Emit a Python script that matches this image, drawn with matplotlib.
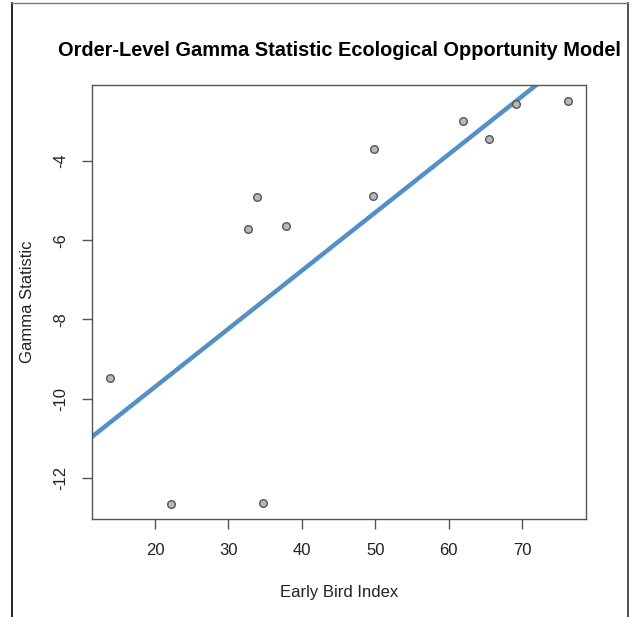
import matplotlib.pyplot as plt
from matplotlib.lines import Line2D

# Data
early_bird = [13.9, 22.2, 34.7, 32.7, 33.9, 37.8, 49.8, 49.7, 62.0, 65.5, 69.2, 76.3]
gamma = [-9.49, -12.66, -12.63, -5.72, -4.91, -5.65, -3.70, -4.88, -2.99, -3.44, -2.56, -2.48]
fit_intercept = -12.64
fit_slope = 0.1468

x_ticks = [20, 30, 40, 50, 60, 70]
y_ticks = [-4, -6, -8, -10, -12]

plt.rcParams['font.family'] = ['Liberation Sans', 'DejaVu Sans']

fig = plt.figure(figsize=(6.35, 6.17), dpi=100)
ax = fig.add_axes([92 / 635, 1 - 519 / 617, 494 / 635, 434 / 617])

ax.scatter(early_bird, gamma, s=30, facecolor='#b8b8b8', edgecolor='#555555',
           linewidth=1.0, zorder=3)
ax.axline((0, fit_intercept), slope=fit_slope, color='#5390c6', linewidth=3.2, zorder=2)

ax.set_xlim(11.42, 78.7)
ax.set_ylim(-13.04, -2.08)
ax.set_xticks(x_ticks)
ax.set_yticks(y_ticks)
ax.set_yticklabels([str(v) for v in y_ticks], rotation=90, va='center')

for s in ax.spines.values():
    s.set_color('#555555')
    s.set_linewidth(1.0)
ax.tick_params(direction='out', length=7, width=1.0, color='#555555',
               labelsize=12, labelcolor='#222222', pad=10)

ax.set_title('Order-Level Gamma Statistic Ecological Opportunity Model',
             fontsize=14.4, fontweight='bold', pad=21)
ax.set_xlabel('Early Bird Index', fontsize=12, labelpad=20, color='#222222')
ax.set_ylabel('Gamma Statistic', fontsize=12, labelpad=13, color='#222222')

# screenshot frame
fig.add_artist(Line2D([12 / 635, 12 / 635], [0, 1 - 3 / 617], color='black', lw=1.2))
fig.add_artist(Line2D([628 / 635, 628 / 635], [0, 1 - 3 / 617], color='#333333', lw=1.2))
fig.add_artist(Line2D([12 / 635, 628 / 635], [1 - 3 / 617, 1 - 3 / 617], color='#777777', lw=1.0))

fig.savefig('out.png', dpi=100)
